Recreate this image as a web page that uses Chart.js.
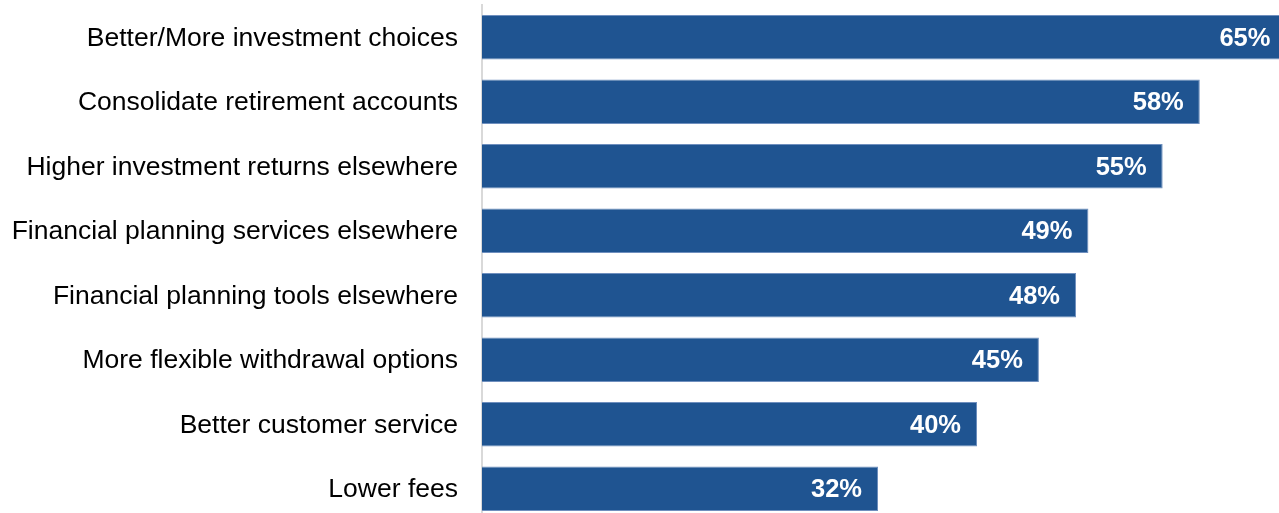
<!DOCTYPE html>
<html>
<head>
<meta charset="utf-8">
<script src="https://cdn.jsdelivr.net/npm/chart.js@4.4.1/dist/chart.umd.min.js"></script>
<style>
  html, body { margin: 0; padding: 0; background: #fff; overflow: hidden; }
  #wrap { position: relative; width: 1279px; height: 525px; }
</style>
</head>
<body>
<div id="wrap"><canvas id="myChart"></canvas></div>
<script>
let reasons = [
  'Better/More investment choices',
  'Consolidate retirement accounts',
  'Higher investment returns elsewhere',
  'Financial planning services elsewhere',
  'Financial planning tools elsewhere',
  'More flexible withdrawal options',
  'Better customer service',
  'Lower fees'
];
let percents = [65, 58, 55, 49, 48, 45, 40, 32];

// white value labels just inside the end of each bar
let barValues = {
  id: 'barValues',
  afterDatasetsDraw(chart) {
    let ctx = chart.ctx;
    let meta = chart.getDatasetMeta(0);
    ctx.save();
    ctx.fillStyle = '#ffffff';
    ctx.font = 'bold 25.5px "Liberation Sans", Arial, sans-serif';
    ctx.textAlign = 'right';
    ctx.textBaseline = 'middle';
    meta.data.forEach((bar, i) => {
      ctx.fillText(percents[i] + '%', bar.x - 16, bar.y + 1.5);
    });
    ctx.restore();
  }
};

let myChart = document.getElementById('myChart').getContext('2d');

let newChart = new Chart(myChart, {
  type: 'bar',
  data: {
    labels: reasons,
    datasets: [{
      data: percents,
      backgroundColor: '#1f5491',
      borderColor: '#6f8fbe',
      borderWidth: 1,
      borderSkipped: 'start',
      categoryPercentage: 1,
      barPercentage: 0.69
    }]
  },
  options: {
    indexAxis: 'y',
    responsive: true,
    maintainAspectRatio: false,
    animation: false,
    layout: { padding: { top: 5, bottom: 4, left: 0, right: 0 } },
    plugins: {
      legend: { display: false },
      tooltip: { enabled: false }
    },
    scales: {
      x: {
        display: false,
        min: 0,
        max: 64.4
      },
      y: {
        grid: { display: false, drawTicks: false },
        border: { display: true, color: '#d9d9d9', width: 2 },
        ticks: {
          color: '#000000',
          padding: 24,
          labelOffset: 1,
          font: { family: '"Liberation Sans", Arial, sans-serif', size: 26.5 }
        },
        afterFit(scale) {
          scale.width = 482;
          scale.paddingTop = 0;
          scale.paddingBottom = 0;
        }
      }
    }
  },
  plugins: [barValues]
});
</script>
</body>
</html>
